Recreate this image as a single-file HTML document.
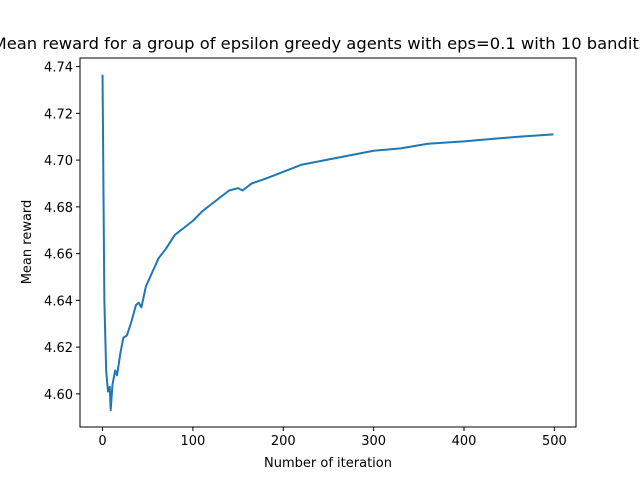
<!DOCTYPE html>
<html><head><meta charset="utf-8"><style>
body{margin:0;background:#fff}
svg{display:block;font-family:"DejaVu Sans","Liberation Sans",sans-serif}
</style></head><body>
<svg id="chart" width="640" height="480">
<text x="320" y="49" text-anchor="middle" font-size="16.35">Mean reward for a group of epsilon greedy agents with eps=0.1 with 10 bandits</text>
<rect x="80" y="58" width="496" height="369" fill="none" stroke="#000" stroke-width="1"/>
<g id="xt"></g>
<g id="yt"></g>
<text x="328" y="467" text-anchor="middle" font-size="13">Number of iteration</text>
<text transform="translate(31,242) rotate(-90)" text-anchor="middle" font-size="13">Mean reward</text>
</svg>
<script>
const iterations=[0,2,4,6,8,9,11,14,16,20,23,27,32,37,40,43,48,55,62,70,80,90,100,110,120,130,140,150,155,165,180,200,220,240,260,280,300,330,360,400,430,460,499];
const meanReward=[4.7365,4.64,4.61,4.601,4.603,4.593,4.604,4.610,4.608,4.618,4.624,4.625,4.631,4.638,4.639,4.637,4.646,4.652,4.658,4.662,4.668,4.671,4.674,4.678,4.681,4.684,4.687,4.688,4.687,4.690,4.692,4.695,4.698,4.6995,4.701,4.7025,4.704,4.705,4.707,4.708,4.709,4.710,4.711];
const xTicks=[0,100,200,300,400,500];
const yTicks=[4.60,4.62,4.64,4.66,4.68,4.70,4.72,4.74];
const NS="http://www.w3.org/2000/svg";
const L=80,R=576,T=58,B=427;
const xmin=-24.95,xmax=523.95;
const ymn=Math.min(...meanReward),ymx=Math.max(...meanReward),m=(ymx-ymn)*0.05;
const ymin=ymn-m,ymax=ymx+m;
const sx=v=>L+(v-xmin)/(xmax-xmin)*(R-L);
const sy=v=>B-(v-ymin)/(ymax-ymin)*(B-T);
const svg=document.getElementById('chart');
function mk(tag,a,p){const e=document.createElementNS(NS,tag);for(const k in a)e.setAttribute(k,a[k]);(p||svg).appendChild(e);return e;}
const xg=document.getElementById('xt'),yg=document.getElementById('yt');
xTicks.forEach(t=>{const x=sx(t);
const l=mk('line',{x1:x,x2:x,y1:B,y2:B+4,stroke:'#000'},xg);


const s=mk('text',{x:x,y:B+18,'text-anchor':'middle','font-size':13},xg);s.textContent=t;

});
yTicks.forEach(t=>{const y=sy(t);
const l=mk('line',{x1:L-4,x2:L,y1:y,y2:y,stroke:'#000'},yg);


const s=mk('text',{x:L-7,y:y+5,'text-anchor':'end','font-size':13},yg);s.textContent=t.toFixed(2);

});
const p=mk('polyline',{points:iterations.map((v,i)=>sx(v)+','+sy(meanReward[i])).join(' '),fill:'none',stroke:'#1f77b4','stroke-width':2,'stroke-linejoin':'round'});


</script>
</body></html>
